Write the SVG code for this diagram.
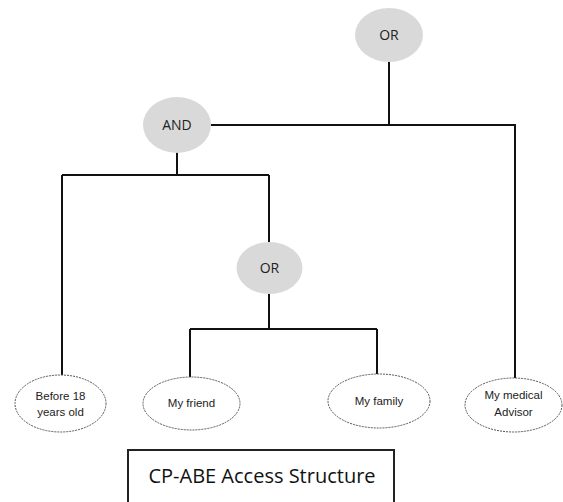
<svg xmlns="http://www.w3.org/2000/svg" width="563" height="502" viewBox="0 0 563 502">
<style>
.gate{fill:#d9d9d9;stroke:none}
.gt{font-family:"Open Sans","Liberation Sans",sans-serif;font-size:14px;fill:#222;text-anchor:middle;font-weight:500}
.leaf{fill:#fff;stroke:#555;stroke-width:1;stroke-dasharray:2 1}
.lt{font-family:"Liberation Sans",Arial,sans-serif;font-size:11.5px;fill:#222;text-anchor:middle}
.c{fill:none;stroke:#111;stroke-width:2}
</style>
<rect width="563" height="502" fill="#fff"/>
<g id="connectors">
<path class="c" d="M389 62V125M211 125H515V378"/>
<path class="c" d="M177 152V175M62 175H269M62 175V375M269 175V242"/>
<path class="c" d="M269 294V329M190 329H377M190 329V377M377 329V374"/>
</g>
<g id="or-top"><ellipse class="gate" cx="389" cy="35" rx="34" ry="27"/><text class="gt" x="389" y="40">OR</text></g>
<g id="and"><ellipse class="gate" cx="177" cy="125" rx="34" ry="28"/><text class="gt" x="177" y="130">AND</text></g>
<g id="or-mid"><ellipse class="gate" cx="269.5" cy="268" rx="33" ry="26"/><text class="gt" x="269.5" y="273">OR</text></g>
<g id="leaf-before18"><ellipse class="leaf" cx="60.5" cy="403.5" rx="45.5" ry="28.5"/><text class="lt" x="60.5" y="400">Before 18</text><text class="lt" x="60.5" y="416">years old</text></g>
<g id="leaf-friend"><ellipse class="leaf" cx="191.5" cy="403.5" rx="48.5" ry="26.5"/><text class="lt" x="191.5" y="407">My friend</text></g>
<g id="leaf-family"><ellipse class="leaf" cx="379" cy="401" rx="51" ry="27"/><text class="lt" x="379" y="405">My family</text></g>
<g id="leaf-medical"><ellipse class="leaf" cx="513.5" cy="405" rx="48.5" ry="27"/><text class="lt" x="513.5" y="399">My medical</text><text class="lt" x="513.5" y="416">Advisor</text></g>
<g id="caption"><rect x="128" y="450" width="266" height="60" fill="#fff" stroke="#222" stroke-width="2"/><text x="262" y="483" font-family="'Open Sans','Liberation Sans',sans-serif" font-size="20" fill="#111" text-anchor="middle">CP-ABE Access Structure</text></g>
</svg>
